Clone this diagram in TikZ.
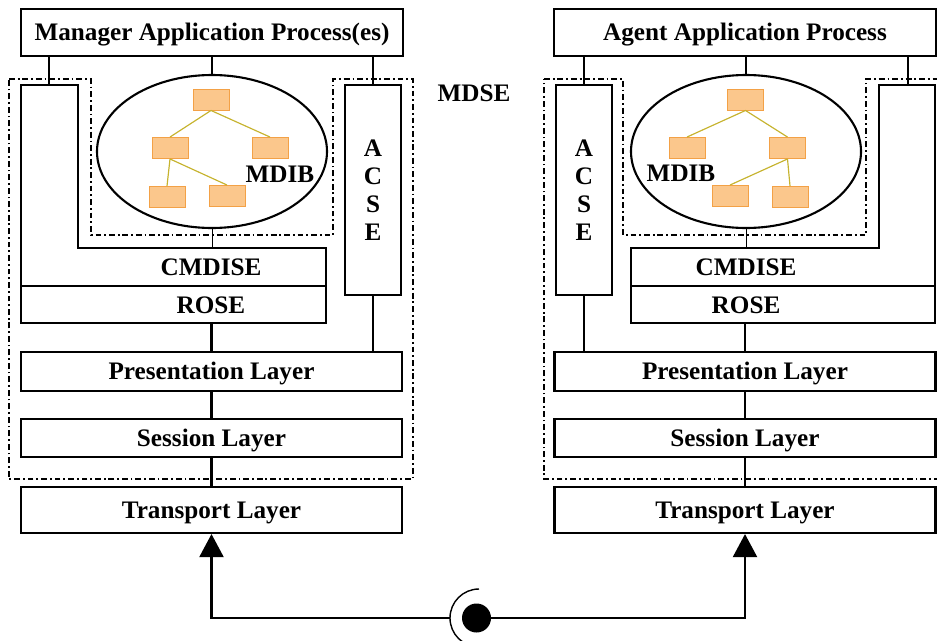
\documentclass[tikz,border=0pt]{standalone}
\usepackage{fontspec}
\setmainfont{Liberation Serif}
\usepackage{tikz}
\usetikzlibrary{shapes.geometric, arrows.meta, positioning}
\definecolor{objfill}{HTML}{FBC78C}
\definecolor{objline}{HTML}{F3A146}
\definecolor{treeline}{HTML}{C6B32E}
\tikzset{>={Triangle[length=0.69cm,width=0.72cm]},
box/.style={draw, line width=1.8pt, inner sep=0pt, text height=14.4pt, text depth=0pt, font=\fontsize{21.5}{24}\selectfont\bfseries},
lbl/.style={inner sep=0pt, text height=14.4pt, text depth=0pt, font=\fontsize{21.5}{24}\selectfont\bfseries},
obj/.style={draw=objline, fill=objfill, line width=0.8pt, minimum width=1.08cm, minimum height=0.63cm, inner sep=0pt},
mib/.style={draw, ellipse, line width=1.8pt, minimum width=6.9cm, minimum height=4.59cm, inner sep=0pt},
acsebox/.style={draw, line width=1.8pt, inner sep=0pt, minimum width=1.68cm, minimum height=6.3cm, align=center, font=\fontsize{21.5}{24}\selectfont\bfseries},
mdse/.style={line width=1.4pt, dash pattern=on 5pt off 2.5pt on 1.5pt off 2.5pt},
link/.style={line width=1.8pt},
tree/.style={draw=treeline, line width=1pt}
}

\begin{document}
\begin{tikzpicture}[x=0.03cm, y=-0.03cm]
\useasboundingbox (0,0) rectangle (937,640);
\clip (0,0) rectangle (937,640);
% manager side
\node[box, minimum width=11.46cm, minimum height=1.41cm] (mgr) at (212,32.5) {Manager Application Process(es)};
\draw[mdse] (9,79) -| (91,235) -| (333,79) -- (413,79) -- (413,479) -- (9,479) -- cycle;
\draw[link] (21,85) -| (78,248) -| (326,286) -- (21,286) -- cycle;
\node[lbl] (cmL) at (211,267) {CMDISE};
\node[box, minimum width=9.15cm, minimum height=1.11cm] (roseL) at (173.5,304.5) {};
\node[lbl] (roseLt) at (211,305) {ROSE};
\node[mib] (ellL) at (212,151.5) {};
\node[obj] (tL0) at (211,99.5) {};
\node[obj] (tL1) at (170,148) {};
\node[obj] (tL2) at (270,148) {};
\node[obj] (tL3) at (167,197) {};
\node[obj] (tL4) at (227,196) {};
\draw[tree] (tL0.south) -- (tL1.north) (tL0.south) -- (tL2.north)
  (tL1.south) -- (tL3.north) (tL1.south) -- (tL4.north);
\node[lbl] (mdibL) at (280,174) {MDIB};
\node[acsebox] (acseL) at (373,190) {A\\C\\S\\E};
\node[box, minimum width=11.43cm, minimum height=1.17cm] (presL) at (211.5,371.5) {Presentation Layer};
\node[box, minimum width=11.43cm, minimum height=1.14cm] (sessL) at (211.5,438) {Session Layer};
\node[box, minimum width=11.43cm, minimum height=1.38cm] (tranL) at (211.5,510) {Transport Layer};
\node[lbl] (mdse) at (474,93) {MDSE};
\coordinate (cmtopL) at (49,85);
\coordinate (cmmidL) at (212,248);
\draw[link] (mgr.south -| cmtopL) -- (cmtopL);
\draw[link] (mgr.south -| ellL.north) -- (ellL.north);
\draw[link] (mgr.south -| acseL.north) -- (acseL.north);
\draw[line width=0.6pt] (ellL.south) -- (cmmidL);
\draw[link] (presL.north |- roseL.south) -- (presL.north);
\draw[link] (acseL.south) -- (acseL.south |- presL.north);
\draw[link] (presL.south) -- (sessL.north);
\draw[link] (sessL.south) -- (tranL.north);
% agent side
\node[box, minimum width=11.46cm, minimum height=1.41cm] (agt) at (745,32.5) {Agent Application Process};
\draw[mdse] (544,79) -| (623,235) -| (866,79) -- (945,79) -- (945,479) -- (544,479) -- cycle;
\draw[link] (935,85) -- (879,85) |- (631,248) |- (935,286) -- cycle;
\node[lbl] (cmR) at (746,267) {CMDISE};
\node[box, minimum width=9.12cm, minimum height=1.11cm] (roseR) at (783,304.5) {};
\node[lbl] (roseRt) at (746,305) {ROSE};
\node[mib] (ellR) at (746,151.5) {};
\node[obj] (tR0) at (745.5,99.5) {};
\node[obj] (tR1) at (687,148) {};
\node[obj] (tR2) at (787.5,148) {};
\node[obj] (tR3) at (730,196) {};
\node[obj] (tR4) at (790,197) {};
\draw[tree] (tR0.south) -- (tR1.north) (tR0.south) -- (tR2.north)
  (tR2.south) -- (tR3.north) (tR2.south) -- (tR4.north);
\node[lbl] (mdibR) at (681,173) {MDIB};
\node[acsebox] (acseR) at (584,190) {A\\C\\S\\E};
\node[box, minimum width=11.43cm, minimum height=1.17cm] (presR) at (745,371.5) {Presentation Layer};
\node[box, minimum width=11.43cm, minimum height=1.14cm] (sessR) at (745,438) {Session Layer};
\node[box, minimum width=11.43cm, minimum height=1.38cm] (tranR) at (745,510) {Transport Layer};
\coordinate (cmtopR) at (908,85);
\coordinate (cmmidR) at (746,248);
\draw[link] (agt.south -| acseR.north) -- (acseR.north);
\draw[link] (agt.south -| ellR.north) -- (ellR.north);
\draw[link] (agt.south -| cmtopR) -- (cmtopR);
\draw[line width=0.6pt] (ellR.south) -- (cmmidR);
\draw[link] (presR.north |- roseR.south) -- (presR.north);
\draw[link] (acseR.south) -- (acseR.south |- presR.north);
\draw[link] (presR.south) -- (sessR.north);
\draw[link] (sessR.south) -- (tranR.north);
% interface between transports
\node[circle, fill, minimum size=0.87cm, inner sep=0pt] (ball) at (476.5,618) {};
\coordinate (sock) at (450,618);
\draw[line width=1.2pt] (479,647) arc[start angle=90, end angle=270, radius=29];
\draw[link, ->] (sock) -| (tranL.south);
\draw[link, ->] (ball.east) -| (tranR.south);
\end{tikzpicture}
\end{document}
